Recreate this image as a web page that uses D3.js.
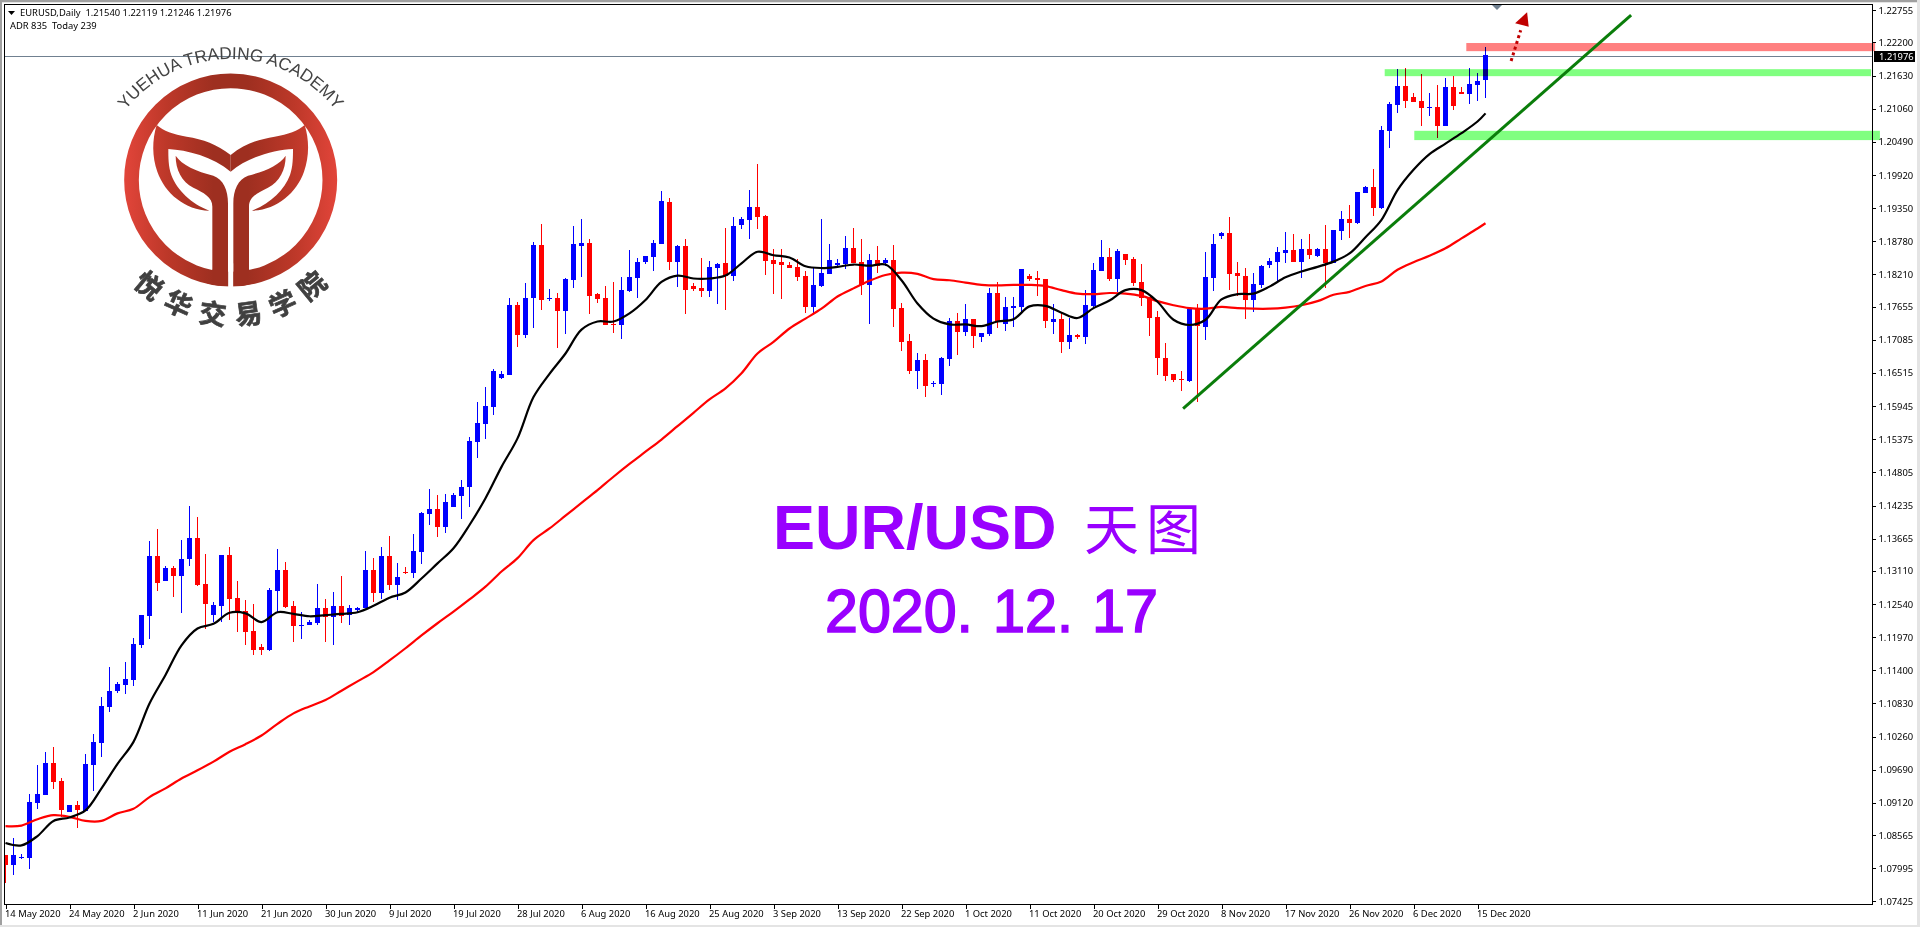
<!DOCTYPE html>
<html><head><meta charset="utf-8">
<script src="https://cdn.jsdelivr.net/npm/d3@7/dist/d3.min.js"></script>
<style>html,body{margin:0;padding:0;background:#fff;overflow:hidden}svg{display:block}</style>
</head><body><svg id="c" width="1920" height="927"></svg>
<script>
const opens=[1.0822,1.0805,1.0818,1.0817,1.0912,1.0925,1.0980,1.0949,1.0896,1.0908,1.0899,1.0977,1.1015,1.1077,1.1104,1.1114,1.1123,1.1183,1.1233,1.1336,1.1293,1.1316,1.1302,1.1331,1.1367,1.1288,1.1235,1.1250,1.1338,1.1264,1.1242,1.1207,1.1181,1.1175,1.1276,1.1312,1.1250,1.1216,1.1218,1.1221,1.1247,1.1231,1.1250,1.1235,1.1243,1.1247,1.1312,1.1273,1.1336,1.1287,1.1309,1.1307,1.1344,1.1409,1.1418,1.1387,1.1421,1.1440,1.1455,1.1533,1.1564,1.1593,1.1643,1.1648,1.1768,1.1717,1.1779,1.1871,1.1778,1.1780,1.1758,1.1811,1.1870,1.1875,1.1787,1.1780,1.1736,1.1734,1.1792,1.1815,1.1842,1.1851,1.1873,1.1945,1.1842,1.1870,1.1801,1.1797,1.1792,1.1832,1.1840,1.1818,1.1906,1.1914,1.1937,1.1921,1.1846,1.1842,1.1837,1.1834,1.1818,1.1765,1.1801,1.1822,1.1837,1.1839,1.1866,1.1842,1.1803,1.1846,1.1840,1.1846,1.1763,1.1706,1.1655,1.1674,1.1633,1.1633,1.1676,1.1741,1.1722,1.1744,1.1713,1.1719,1.1789,1.1736,1.1763,1.1765,1.1818,1.1815,1.1813,1.1739,1.1744,1.1705,1.1717,1.1713,1.1767,1.1827,1.1851,1.1813,1.1856,1.1848,1.1808,1.1782,1.1748,1.1677,1.1650,1.1641,1.1638,1.1761,1.1731,1.1815,1.1887,1.1892,1.1823,1.1818,1.1777,1.1803,1.1837,1.1842,1.1858,1.1863,1.1842,1.1865,1.1853,1.1865,1.1841,1.1896,1.1916,1.1909,1.1961,1.1971,1.1935,1.2068,1.2112,1.2145,1.2126,1.2119,1.2107,1.2109,1.2076,1.2143,1.2135,1.2131,1.2147,1.2154];
const highs=[1.0822,1.0851,1.0824,1.0927,1.0977,1.0999,1.1008,1.0954,1.0908,1.0915,1.0996,1.1030,1.1094,1.1145,1.1120,1.1154,1.1195,1.1235,1.1362,1.1383,1.1319,1.1319,1.1364,1.1422,1.1403,1.1340,1.1257,1.1338,1.1353,1.1293,1.1261,1.1254,1.1185,1.1281,1.1348,1.1326,1.1259,1.1240,1.1226,1.1288,1.1262,1.1274,1.1302,1.1252,1.1249,1.1345,1.1333,1.1352,1.1371,1.1325,1.1318,1.1375,1.1412,1.1452,1.1442,1.1443,1.1445,1.1467,1.1541,1.1602,1.1627,1.1658,1.1655,1.1780,1.1773,1.1806,1.1877,1.1908,1.1796,1.1789,1.1815,1.1904,1.1916,1.1882,1.1789,1.1801,1.1808,1.1816,1.1863,1.1849,1.1852,1.1880,1.1964,1.1952,1.1871,1.1882,1.1806,1.1849,1.1844,1.1840,1.1901,1.1920,1.1920,1.1966,1.2011,1.1923,1.1865,1.1865,1.1842,1.1847,1.1827,1.1832,1.1916,1.1873,1.1847,1.1887,1.1901,1.1882,1.1856,1.1870,1.1849,1.1872,1.1772,1.1719,1.1686,1.1684,1.1638,1.1679,1.1746,1.1755,1.1770,1.1744,1.1720,1.1798,1.1808,1.1782,1.1782,1.1830,1.1822,1.1827,1.1813,1.1770,1.1755,1.1746,1.1719,1.1794,1.1841,1.1880,1.1866,1.1865,1.1856,1.1851,1.1839,1.1782,1.1758,1.1703,1.1650,1.1655,1.1762,1.1770,1.1860,1.1891,1.1894,1.1920,1.1842,1.1832,1.1823,1.1837,1.1849,1.1868,1.1894,1.1891,1.1882,1.1891,1.1866,1.1906,1.1897,1.1930,1.1940,1.1963,1.1973,1.2002,1.2076,1.2118,1.2174,1.2176,1.2133,1.2166,1.2133,1.2147,1.2159,1.2162,1.2143,1.2176,1.2167,1.22119];
const lows=[1.0775,1.0788,1.0815,1.0798,1.0901,1.0925,1.0936,1.0888,1.0896,1.0869,1.0899,1.0932,1.0991,1.1068,1.1101,1.1099,1.1113,1.1178,1.1194,1.1276,1.1293,1.1266,1.1238,1.1319,1.1285,1.1211,1.1223,1.1224,1.1226,1.1206,1.1183,1.1166,1.1166,1.1173,1.1240,1.1247,1.1188,1.1194,1.1218,1.1218,1.1188,1.1183,1.1221,1.1218,1.1238,1.1247,1.1257,1.1262,1.1278,1.1261,1.1306,1.1299,1.1323,1.1390,1.1369,1.1376,1.1421,1.1400,1.1421,1.1505,1.1538,1.1579,1.1641,1.1648,1.1696,1.1711,1.1729,1.1760,1.1775,1.1694,1.1718,1.1797,1.1816,1.1753,1.1772,1.1734,1.1720,1.1710,1.1791,1.1780,1.1839,1.1827,1.1873,1.1828,1.1799,1.1753,1.1792,1.1782,1.1782,1.1770,1.1760,1.1809,1.1899,1.1882,1.1899,1.1820,1.1787,1.1779,1.1832,1.1809,1.1754,1.1754,1.1799,1.1822,1.1832,1.1830,1.1840,1.1785,1.1736,1.1823,1.1835,1.1731,1.1689,1.1650,1.1624,1.1610,1.1627,1.1614,1.1663,1.1682,1.1715,1.1694,1.1705,1.1715,1.1729,1.1724,1.1731,1.1756,1.1810,1.1784,1.1729,1.1719,1.1686,1.1693,1.1710,1.1701,1.1765,1.1827,1.1810,1.1791,1.1837,1.1801,1.1767,1.1715,1.1648,1.1638,1.1636,1.1620,1.1636,1.1602,1.1708,1.1792,1.1882,1.1794,1.1784,1.1744,1.1756,1.1798,1.1832,1.1808,1.1841,1.1842,1.1815,1.1848,1.1851,1.1798,1.1841,1.1880,1.1884,1.1908,1.1961,1.1922,1.1934,1.2038,1.2099,1.2107,1.2118,1.2076,1.2093,1.2056,1.2076,1.2104,1.2131,1.2114,1.2119,1.21246];
const closes=[1.0805,1.0822,1.0819,1.0913,1.0927,1.0980,1.0948,1.0899,1.0908,1.0899,1.0979,1.1016,1.1078,1.1104,1.1116,1.1125,1.1185,1.1235,1.1336,1.1290,1.1316,1.1302,1.1331,1.1367,1.1286,1.1254,1.1252,1.1338,1.1262,1.1240,1.1206,1.1175,1.1175,1.1278,1.1312,1.1249,1.1216,1.1218,1.1223,1.1247,1.1231,1.1250,1.1233,1.1247,1.1247,1.1312,1.1273,1.1336,1.1286,1.1301,1.1307,1.1345,1.1411,1.1418,1.1387,1.1430,1.1442,1.1455,1.1534,1.1565,1.1595,1.1655,1.1650,1.1768,1.1717,1.1780,1.1871,1.1777,1.1780,1.1758,1.1813,1.1873,1.1875,1.1784,1.1779,1.1734,1.1734,1.1794,1.1816,1.1842,1.1852,1.1875,1.1947,1.1842,1.1870,1.1794,1.1796,1.1792,1.1834,1.1839,1.1818,1.1904,1.1916,1.1937,1.1920,1.1844,1.1839,1.1837,1.1832,1.1816,1.1765,1.1803,1.1823,1.1846,1.1840,1.1866,1.1840,1.1803,1.1846,1.1835,1.1846,1.1762,1.1705,1.1655,1.1674,1.1629,1.1634,1.1677,1.1741,1.1722,1.1744,1.1715,1.1720,1.1789,1.1739,1.1765,1.1767,1.1830,1.1813,1.1811,1.1741,1.1744,1.1705,1.1717,1.1713,1.1768,1.1829,1.1851,1.1813,1.1861,1.1846,1.1806,1.1780,1.1746,1.1677,1.1646,1.1639,1.1639,1.1761,1.1731,1.1817,1.1873,1.1892,1.1822,1.1817,1.1777,1.1805,1.1835,1.1844,1.1860,1.1863,1.1842,1.1865,1.1854,1.1865,1.1841,1.1897,1.1916,1.1909,1.1963,1.1971,1.1935,1.2069,1.2114,1.2145,1.2119,1.2118,1.2107,1.2109,1.2076,1.2143,1.2111,1.2131,1.2149,1.2154,1.21976];

const maBars=[...d3.range(0,185,2),185];
const blackMA=[1.0843,1.0839,1.0855,1.0881,1.0887,1.0899,1.0937,1.0979,1.1017,1.1083,1.1132,1.1183,1.1212,1.1220,1.1239,1.1238,1.1223,1.1240,1.1237,1.1233,1.1235,1.1237,1.1240,1.1251,1.1265,1.1274,1.1298,1.1324,1.1350,1.1390,1.1436,1.1490,1.1539,1.1610,1.1650,1.1685,1.1726,1.1740,1.1740,1.1754,1.1777,1.1808,1.1819,1.1814,1.1814,1.1819,1.1840,1.1860,1.1854,1.1850,1.1835,1.1832,1.1834,1.1838,1.1836,1.1838,1.1811,1.1771,1.1745,1.1735,1.1735,1.1732,1.1740,1.1744,1.1766,1.1767,1.1755,1.1746,1.1763,1.1776,1.1794,1.1794,1.1774,1.1743,1.1734,1.1743,1.1778,1.1787,1.1788,1.1800,1.1816,1.1826,1.1834,1.1843,1.1857,1.1885,1.1915,1.1966,1.2001,1.2028,1.2046,1.2064,1.2084,1.2098];
const redMA=[1.0872,1.0873,1.0884,1.0891,1.0888,1.0881,1.0881,1.0894,1.0902,1.0922,1.0937,1.0954,1.0968,1.0983,1.1000,1.1013,1.1028,1.1048,1.1066,1.1078,1.1089,1.1105,1.1121,1.1137,1.1157,1.1178,1.1200,1.1221,1.1241,1.1262,1.1284,1.1310,1.1333,1.1364,1.1384,1.1406,1.1428,1.1450,1.1473,1.1495,1.1516,1.1537,1.1560,1.1583,1.1606,1.1625,1.1651,1.1685,1.1705,1.1728,1.1745,1.1762,1.1783,1.1797,1.1810,1.1820,1.1824,1.1822,1.1813,1.1811,1.1807,1.1803,1.1802,1.1803,1.1803,1.1801,1.1794,1.1788,1.1787,1.1789,1.1788,1.1784,1.1775,1.1768,1.1763,1.1762,1.1765,1.1763,1.1762,1.1762,1.1764,1.1768,1.1775,1.1786,1.1791,1.1801,1.1809,1.1829,1.1842,1.1853,1.1866,1.1883,1.1900,1.1909];

const yTicks=[1.22755,1.22200,1.21630,1.21060,1.20490,1.19920,1.19350,1.18780,1.18210,1.17655,1.17085,1.16515,1.15945,1.15375,1.14805,1.14235,1.13665,1.13110,1.12540,1.11970,1.11400,1.10830,1.10260,1.09690,1.09120,1.08565,1.07995,1.07425];
const xTickBars=d3.range(0,185,8);
const xTickLabels=["14 May 2020","24 May 2020","2 Jun 2020","11 Jun 2020","21 Jun 2020","30 Jun 2020","9 Jul 2020","19 Jul 2020","28 Jul 2020","6 Aug 2020","16 Aug 2020","25 Aug 2020","3 Sep 2020","13 Sep 2020","22 Sep 2020","1 Oct 2020","11 Oct 2020","20 Oct 2020","29 Oct 2020","8 Nov 2020","17 Nov 2020","26 Nov 2020","6 Dec 2020","15 Dec 2020"];
const lastPrice=1.21976;
const zones=[{bars:[182.6,233.7],prices:[1.2219,1.2205],fill:"#ff8080"},{bars:[172.4,233.2],prices:[1.2174,1.2162],fill:"#80ff80"},{bars:[176.1,234.3],prices:[1.2068,1.2052],fill:"#80ff80"}];
const trendBars=[147.2,203.2], trendPrices=[1.1590,1.2267];
const arrowBars=[188.2,189.4], arrowPrices=[1.2188,1.2241];
const arrowHeadBars=[190.2,188.7,190.4], arrowHeadPrices=[1.2272,1.2253,1.2247];

const FONT='"Noto Sans",sans-serif', FS=9.4;
const L=4.5,R=1872.5,T=4.5,B=904.5;
const svg=d3.select("#c");
const x=d3.scaleLinear().domain([0,185]).range([5.5,1485.5]);
const y=d3.scaleLinear().domain([1.07425,1.22755]).range([901.45,10.17]);
const defs=svg.append("defs");
defs.append("clipPath").attr("id","plot").append("rect").attr("x",5).attr("y",5).attr("width",R-5).attr("height",B-5);
const grad=defs.append("linearGradient").attr("id","logoG").attr("gradientUnits","userSpaceOnUse").attr("x1",372).attr("x2",1012).attr("y1",0).attr("y2",0);
[[0,"#e2453a"],[.2,"#bd3829"],[.42,"#9e2f20"],[.58,"#9e2f20"],[.8,"#bd3829"],[1,"#e2453a"]].forEach(s=>grad.append("stop").attr("offset",s[0]).attr("stop-color",s[1]));

// window chrome
svg.append("rect").attr("x",0).attr("y",0).attr("width",1920).attr("height",2).attr("fill","#a0a0a0");
svg.append("rect").attr("x",0).attr("y",2).attr("width",2).attr("height",925).attr("fill","#a0a0a0");
svg.append("rect").attr("x",2).attr("y",2).attr("width",1918).attr("height",1).attr("fill","#e4e4e4");
svg.append("rect").attr("x",1917).attr("y",0).attr("width",3).attr("height",927).attr("fill","#e4e4e4");
svg.append("rect").attr("x",0).attr("y",925).attr("width",1920).attr("height",2).attr("fill","#e4e4e4");

const plot=svg.append("g").attr("clip-path","url(#plot)");

// logo
const logo=svg.append("g").attr("transform","scale(0.33333)");
logo.append("circle").attr("cx",692).attr("cy",540).attr("r",297.5).attr("fill","none").attr("stroke","url(#logoG)").attr("stroke-width",44);
const half=logo.append("g");
const half2=logo.append("g").attr("transform","translate(1384,0) scale(-1,1)");
[half,half2].forEach(g=>{
 g.append("path").attr("fill","url(#logoG)").attr("d","M692 465C650 432 610 418 560 410C520 404 490 392 470 375C456 420 456 470 472 515C495 580 555 630 628 632C575 612 530 570 514 525C505 500 505 470 505 447C560 450 640 470 692 515Z");
 g.append("path").attr("fill","url(#logoG)").attr("d","M527 467C545 495 590 515 640 527C670 538 684 570 684 610L684 835C684 848 670 857 655 857L620 850L637 808L637 620C637 590 610 578 580 563C545 545 527 510 527 467Z");
});
logo.append("rect").attr("x",684.5).attr("y",790).attr("width",15).attr("height",80).attr("fill","#fff");
// logo arc text
const R1=133.6,cx1=230.6,cy1=192.6;
defs.append("path").attr("id","arcTop").attr("d",`M${cx1-R1} ${cy1}A${R1} ${R1} 0 0 1 ${cx1+R1} ${cy1}`);
svg.append("text").attr("font-family",'"Liberation Sans",sans-serif').attr("font-size",17.2).attr("fill","#444").attr("text-anchor","middle")
 .append("textPath").attr("href","#arcTop").attr("startOffset","50%").text("YUEHUA TRADING ACADEMY");
[["悦",-39.5],["华",-24],["交",-8],["易",8],["学",24],["院",39.5]].forEach(([c,a])=>{
 const rad=a*Math.PI/180,px=230.6+128.5*Math.sin(rad),py=186.7+128.5*Math.cos(rad);
 svg.append("text").attr("transform",`translate(${px},${py}) rotate(${-a})`).attr("text-anchor","middle").attr("dy","0.36em")
  .attr("font-family",'"Noto Sans CJK SC"').attr("font-weight",700).attr("font-size",27).attr("fill","#404040").attr("stroke","#404040").attr("stroke-width",0.7).text(c);
});

// bid line
plot.append("line").attr("x1",L).attr("x2",R).attr("y1",Math.ceil(y(lastPrice))+.5).attr("y2",Math.ceil(y(lastPrice))+.5).attr("stroke","#708090");

// candles
const idx=d3.range(opens.length);
const cg=plot.append("g").attr("shape-rendering","crispEdges");
const col=i=>closes[i]>=opens[i]?"#0000ff":"#ff0000";
cg.selectAll("line").data(idx).join("line").attr("x1",x).attr("x2",x).attr("y1",i=>y(highs[i])).attr("y2",i=>y(lows[i])).attr("stroke",col);
cg.selectAll("rect").data(idx).join("rect").attr("x",i=>x(i)-2.5).attr("width",5)
 .attr("y",i=>Math.round(y(Math.max(opens[i],closes[i]))))
 .attr("height",i=>Math.max(1,Math.round(Math.abs(y(opens[i])-y(closes[i])))))
 .attr("fill",col);

// moving averages
const ln=d3.line().curve(d3.curveCatmullRom).x((d,i)=>x(maBars[i])).y(d=>y(d));
plot.append("path").attr("d",ln(redMA)).attr("fill","none").attr("stroke","#ff0000").attr("stroke-width",2.2);
plot.append("path").attr("d",ln(blackMA)).attr("fill","none").attr("stroke","#000").attr("stroke-width",2.2);

// zones (multiply, bars show through darkened)
svg.selectAll("rect.zone").data(zones).join("rect").attr("class","zone")
 .attr("x",d=>x(d.bars[0])).attr("width",d=>x(d.bars[1])-x(d.bars[0]))
 .attr("y",d=>y(d.prices[0])).attr("height",d=>y(d.prices[1])-y(d.prices[0]))
 .attr("fill",d=>d.fill).style("mix-blend-mode","multiply");

// trend line
svg.append("line").attr("x1",x(trendBars[0])).attr("y1",y(trendPrices[0])).attr("x2",x(trendBars[1])).attr("y2",y(trendPrices[1])).attr("stroke","#0a7d0a").attr("stroke-width",3);

// arrow
svg.append("line").attr("x1",x(arrowBars[0])).attr("y1",y(arrowPrices[0])).attr("x2",x(arrowBars[1])).attr("y2",y(arrowPrices[1])).attr("stroke","#c00000").attr("stroke-width",3).attr("stroke-dasharray","3 3");
svg.append("path").attr("d",d3.line()(arrowHeadBars.map((b,i)=>[x(b),y(arrowHeadPrices[i])]))+"Z").attr("fill","#c00000");

// shift marker
svg.append("path").attr("d","M1492 5H1502L1497 10Z").attr("fill","#708090");

// frame
const frame=svg.append("g").attr("shape-rendering","crispEdges");
frame.append("path").attr("d",`M${L} ${B}V${T}H${R}V${B}H${L}`).attr("fill","none").attr("stroke","#000");

// axes
const ya=d3.axisRight(y).tickValues(yTicks).tickFormat(d3.format(".5f")).tickSize(3).tickPadding(3);
const yg=svg.append("g").attr("transform",`translate(${R},0)`).call(ya);
yg.select(".domain").remove();
yg.selectAll("line").attr("stroke","#000").attr("shape-rendering","crispEdges");
yg.selectAll("text").attr("font-family",FONT).attr("font-size",FS).attr("fill","#000");
const xa=d3.axisBottom(x).tickValues(xTickBars).tickFormat((d,i)=>xTickLabels[i]).tickSize(4).tickPadding(2);
const xg=svg.append("g").attr("transform",`translate(0,${B})`).call(xa);
xg.select(".domain").remove();
xg.selectAll("line").attr("stroke","#000").attr("shape-rendering","crispEdges");
xg.selectAll("text").attr("font-family",FONT).attr("font-size",FS).attr("fill","#000").attr("text-anchor","start").attr("dx",-1);

// last price tag
svg.append("rect").attr("x",1874).attr("y",51).attr("width",41).attr("height",11).attr("fill","#000");
svg.append("text").attr("x",1879).attr("y",60).attr("font-family",FONT).attr("font-size",FS).attr("fill","#fff").text(d3.format(".5f")(lastPrice));

// header
svg.append("path").attr("d","M8 11H15L11.5 15Z").attr("fill","#000");
svg.append("text").attr("x",20).attr("y",16).attr("font-family",FONT).attr("font-size",FS).attr("fill","#000").style("white-space","pre").text("EURUSD,Daily  1.21540 1.22119 1.21246 1.21976");
svg.append("text").attr("x",10).attr("y",29).attr("font-family",FONT).attr("font-size",FS).attr("fill","#000").style("white-space","pre").text("ADR 835  Today 239");

// titles
const PUR="#9900ff";
svg.append("text").attr("x",773).attr("y",549).attr("font-family",'"Liberation Sans"').attr("font-weight",700).attr("font-size",63).attr("fill",PUR).text("EUR/USD");
svg.append("text").attr("x",1084).attr("y",549).attr("font-family",'"Noto Sans CJK SC"').attr("font-size",55).attr("letter-spacing",7).attr("fill",PUR).text("天图");
[["2020.",825,148],["12.",993,80],["17",1092,66]].forEach(([t,px,w])=>{
 svg.append("text").attr("x",px).attr("y",632).attr("font-family",'"Liberation Sans"').attr("font-size",61).attr("fill",PUR).attr("stroke",PUR).attr("stroke-width",1.6)
  .attr("textLength",w).attr("lengthAdjust","spacingAndGlyphs").text(t);
});
</script></body></html>
